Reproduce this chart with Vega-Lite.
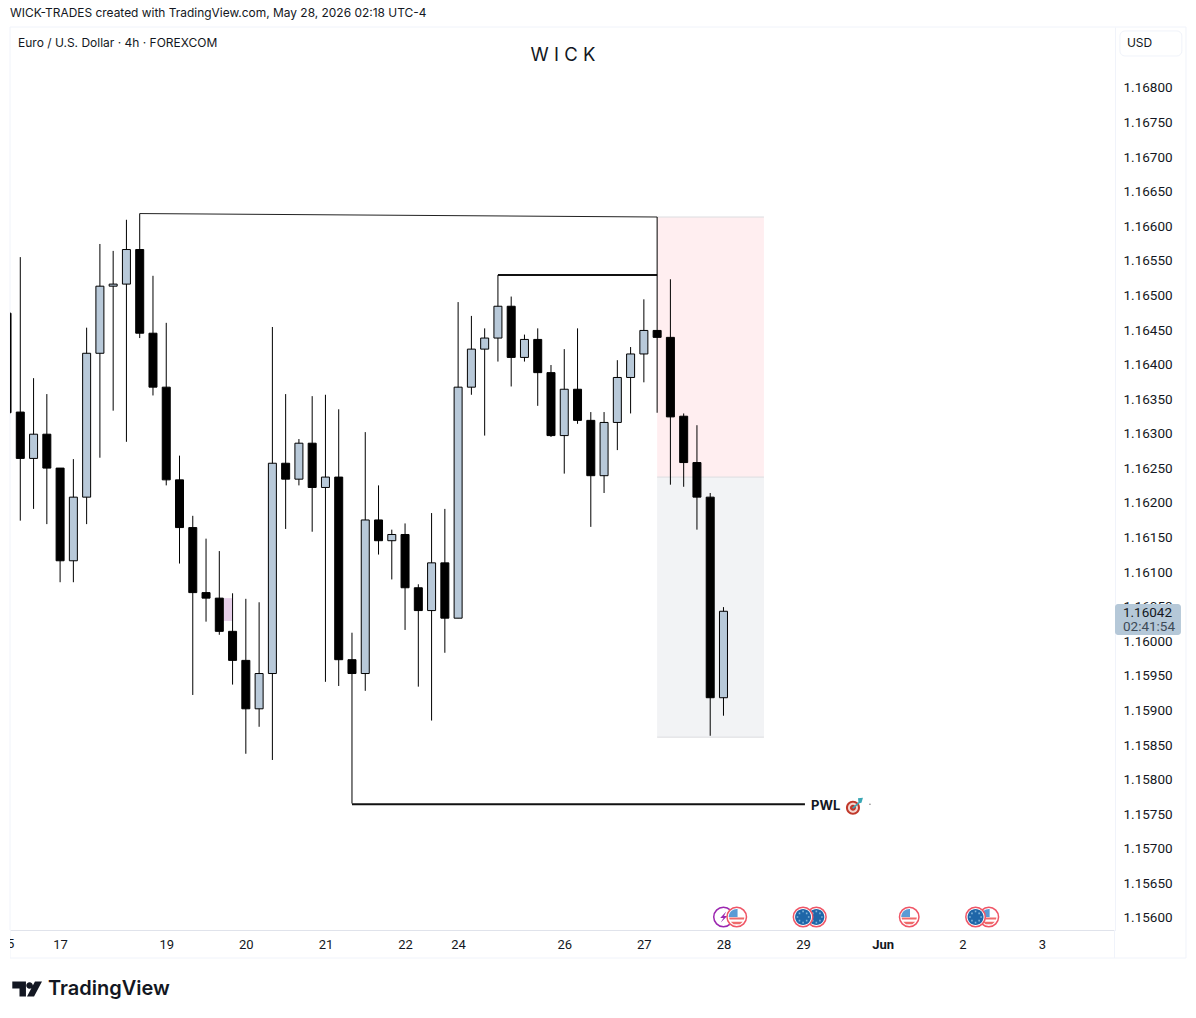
{
  "$schema": "https://vega.github.io/schema/vega-lite/v6.json",
  "width": 1105,
  "height": 903,
  "autosize": "none",
  "padding": {"left": 10, "top": 27, "right": 81, "bottom": 88},
  "background": "white",
  "title": {"text": "WICK-TRADES created with TradingView.com, May 28, 2026 02:18 UTC-4", "anchor": "start", "frame": "group", "fontSize": 11.95, "fontWeight": "normal", "font": "Inter", "color": "#131722", "offset": 7, "limit": 0},
  "config": {"view": {"stroke": null}, "font": "Inter"},
  "datasets": {
    "candles": [
      {"t":0,"o":1.16473,"h":1.16473,"l":1.16329,"c":1.16329},
      {"t":1,"o":1.16330,"h":1.16554,"l":1.16173,"c":1.16263},
      {"t":2,"o":1.16263,"h":1.16379,"l":1.16190,"c":1.16298},
      {"t":3,"o":1.16298,"h":1.16356,"l":1.16168,"c":1.16249},
      {"t":4,"o":1.16249,"h":1.16249,"l":1.16084,"c":1.16115},
      {"t":5,"o":1.16115,"h":1.16262,"l":1.16084,"c":1.16207},
      {"t":6,"o":1.16207,"h":1.16452,"l":1.16168,"c":1.16415},
      {"t":7,"o":1.16415,"h":1.16573,"l":1.16264,"c":1.16512},
      {"t":8,"o":1.16512,"h":1.16563,"l":1.16332,"c":1.16515},
      {"t":9,"o":1.16515,"h":1.16608,"l":1.16287,"c":1.16565},
      {"t":10,"o":1.16565,"h":1.16617,"l":1.16437,"c":1.16444},
      {"t":11,"o":1.16444,"h":1.16527,"l":1.16354,"c":1.16366},
      {"t":12,"o":1.16366,"h":1.16459,"l":1.16224,"c":1.16232},
      {"t":13,"o":1.16232,"h":1.16267,"l":1.16111,"c":1.16163},
      {"t":14,"o":1.16163,"h":1.16180,"l":1.15921,"c":1.16069},
      {"t":15,"o":1.16069,"h":1.16147,"l":1.16027,"c":1.16061},
      {"t":16,"o":1.16061,"h":1.16129,"l":1.16008,"c":1.16013},
      {"t":17,"o":1.16013,"h":1.16068,"l":1.15936,"c":1.15971},
      {"t":18,"o":1.15971,"h":1.16060,"l":1.15836,"c":1.15901},
      {"t":19,"o":1.15901,"h":1.16055,"l":1.15875,"c":1.15952},
      {"t":20,"o":1.15952,"h":1.16453,"l":1.15827,"c":1.16256},
      {"t":21,"o":1.16256,"h":1.16356,"l":1.16161,"c":1.16233},
      {"t":22,"o":1.16233,"h":1.16291,"l":1.16224,"c":1.16285},
      {"t":23,"o":1.16285,"h":1.16353,"l":1.16157,"c":1.16221},
      {"t":24,"o":1.16221,"h":1.16355,"l":1.15940,"c":1.16236},
      {"t":25,"o":1.16236,"h":1.16334,"l":1.15934,"c":1.15972},
      {"t":26,"o":1.15972,"h":1.16011,"l":1.15764,"c":1.15952},
      {"t":27,"o":1.15952,"h":1.16301,"l":1.15927,"c":1.16174},
      {"t":28,"o":1.16174,"h":1.16224,"l":1.16124,"c":1.16144},
      {"t":29,"o":1.16144,"h":1.16160,"l":1.16088,"c":1.16153},
      {"t":30,"o":1.16153,"h":1.16169,"l":1.16015,"c":1.16076},
      {"t":31,"o":1.16076,"h":1.16081,"l":1.15933,"c":1.16043},
      {"t":32,"o":1.16043,"h":1.16184,"l":1.15884,"c":1.16112},
      {"t":33,"o":1.16112,"h":1.16190,"l":1.15982,"c":1.16032},
      {"t":34,"o":1.16032,"h":1.16489,"l":1.16032,"c":1.16366},
      {"t":35,"o":1.16366,"h":1.16469,"l":1.16355,"c":1.16421},
      {"t":36,"o":1.16421,"h":1.16451,"l":1.16296,"c":1.16437},
      {"t":37,"o":1.16437,"h":1.16528,"l":1.16403,"c":1.16483},
      {"t":38,"o":1.16483,"h":1.16497,"l":1.16367,"c":1.16409},
      {"t":39,"o":1.16409,"h":1.16442,"l":1.16403,"c":1.16435},
      {"t":40,"o":1.16435,"h":1.16451,"l":1.16339,"c":1.16387},
      {"t":41,"o":1.16387,"h":1.16398,"l":1.16294,"c":1.16296},
      {"t":42,"o":1.16296,"h":1.16421,"l":1.16241,"c":1.16363},
      {"t":43,"o":1.16363,"h":1.16451,"l":1.16313,"c":1.16318},
      {"t":44,"o":1.16318,"h":1.16330,"l":1.16164,"c":1.16238},
      {"t":45,"o":1.16238,"h":1.16330,"l":1.16213,"c":1.16315},
      {"t":46,"o":1.16315,"h":1.16405,"l":1.16275,"c":1.16380},
      {"t":47,"o":1.16380,"h":1.16424,"l":1.16328,"c":1.16414},
      {"t":48,"o":1.16414,"h":1.16493,"l":1.16373,"c":1.16448},
      {"t":49,"o":1.16448,"h":1.16612,"l":1.16329,"c":1.16438},
      {"t":50,"o":1.16438,"h":1.16522,"l":1.16225,"c":1.16323},
      {"t":51,"o":1.16324,"h":1.16328,"l":1.16222,"c":1.16257},
      {"t":52,"o":1.16257,"h":1.16311,"l":1.16160,"c":1.16207},
      {"t":53,"o":1.16207,"h":1.16213,"l":1.15862,"c":1.15917},
      {"t":54,"o":1.15917,"h":1.16048,"l":1.15891,"c":1.16042}
    ],
    "icons": [
      {"t":54,"p":1.156,"piece":"ring-purple"},
      {"t":54,"p":1.156,"piece":"bolt"},
      {"t":55,"p":1.156,"piece":"ring-red"},
      {"t":55,"p":1.156,"piece":"us-stripes"},
      {"t":55,"p":1.156,"piece":"us-canton"},
      {"t":61,"p":1.156,"piece":"ring-red"},
      {"t":61,"p":1.156,"piece":"eu-disc"},
      {"t":61,"p":1.156,"piece":"eu-stars"},
      {"t":60,"p":1.156,"piece":"ring-red"},
      {"t":60,"p":1.156,"piece":"eu-disc"},
      {"t":60,"p":1.156,"piece":"eu-stars"},
      {"t":68,"p":1.156,"piece":"ring-red"},
      {"t":68,"p":1.156,"piece":"us-stripes"},
      {"t":68,"p":1.156,"piece":"us-canton"},
      {"t":74,"p":1.156,"piece":"ring-red"},
      {"t":74,"p":1.156,"piece":"us-stripes"},
      {"t":74,"p":1.156,"piece":"us-canton"},
      {"t":73,"p":1.156,"piece":"ring-red"},
      {"t":73,"p":1.156,"piece":"eu-disc"},
      {"t":73,"p":1.156,"piece":"eu-stars"},
      {"t":63.76,"p":1.15758,"piece":"target-outer"},
      {"t":63.76,"p":1.15758,"piece":"target-white"},
      {"t":63.76,"p":1.15758,"piece":"target-inner"},
      {"t":63.76,"p":1.15758,"piece":"dart"},
      {"t":65.04,"p":1.15763,"piece":"speck"},
      {"t":1.505,"p":1.15496,"piece":"tv-logo"}
    ]
  },
  "layer": [
    {
      "data": {"values": [{"t":0.224,"t2":88.86,"p":1.168867,"p2":1.155407}]},
      "mark": {"type": "rect", "fill": null, "stroke": "#f0f3fa", "strokeWidth": 1},
      "encoding": {
        "x": {"field": "t", "type": "quantitative", "scale": {"domain": [0.224, 83.51], "nice": false, "zero": false, "padding": 0},
          "axis": {"title": null, "values": [4,12,18,24,30,34,42,48,54,60,66,72,78], "tickCount": 30, "labelExpr": "{'4':'17','12':'19','18':'20','24':'21','30':'22','34':'24','42':'26','48':'27','54':'28','60':'29','66':'Jun','72':'2','78':'3'}[datum.value]", "ticks": false, "grid": false, "domain": true, "domainColor": "#e0e3eb", "labelPadding": 8, "labelFontSize": 13, "labelOverlap": false, "labelColor": "#131722", "labelFont": "Roboto", "labelFontWeight": {"condition": {"test": "datum.value == 66", "value": "bold"}, "value": "normal"}}},
        "x2": {"field": "t2"},
        "y": {"field": "p", "type": "quantitative", "scale": {"domain": [1.155812, 1.168867], "nice": false, "zero": false, "padding": 0},
          "axis": {"title": null, "orient": "right", "values": [1.156,1.1565,1.157,1.1575,1.158,1.1585,1.159,1.1595,1.16,1.1605,1.161,1.1615,1.162,1.1625,1.163,1.1635,1.164,1.1645,1.165,1.1655,1.166,1.1665,1.167,1.1675,1.168], "tickCount": 30, "format": ".5f", "ticks": false, "grid": false, "domain": true, "domainColor": "#f0f3fa", "labelPadding": 8, "labelOffset": 1, "labelFontSize": 13.5, "labelOverlap": false, "labelColor": "#131722", "labelFont": "Roboto"}},
        "y2": {"field": "p2"}
      }
    },
    {
      "data": {"values": [{"t":83.47,"p":1.155812,"p2":1.155407}]},
      "mark": {"type": "rule", "stroke": "#f0f3fa"},
      "encoding": {
        "x": {"field": "t", "type": "quantitative"},
        "y": {"field": "p", "type": "quantitative"},
        "y2": {"field": "p2"}
      }
    },
    {
      "data": {"values": [{"t":49,"t2":57.05,"p":1.16612,"p2":1.16236}]},
      "mark": {"type": "rect", "fill": "#ffeef0"},
      "encoding": {
        "x": {"field": "t", "type": "quantitative"},
        "x2": {"field": "t2"},
        "y": {"field": "p", "type": "quantitative"},
        "y2": {"field": "p2"}
      }
    },
    {
      "data": {"values": [{"t":49,"t2":57.05,"p":1.16236,"p2":1.1586}]},
      "mark": {"type": "rect", "fill": "#f2f3f5"},
      "encoding": {
        "x": {"field": "t", "type": "quantitative"},
        "x2": {"field": "t2"},
        "y": {"field": "p", "type": "quantitative"},
        "y2": {"field": "p2"}
      }
    },
    {
      "data": {"values": [{"t":49,"t2":57.05,"p":1.16612},{"t":49,"t2":57.05,"p":1.16236},{"t":49,"t2":57.05,"p":1.1586}]},
      "mark": {"type": "rule", "stroke": "#dcdde0"},
      "encoding": {
        "x": {"field": "t", "type": "quantitative"},
        "x2": {"field": "t2"},
        "y": {"field": "p", "type": "quantitative"}
      }
    },
    {
      "data": {"values": [{"t":16.35,"t2":17,"p":1.16061,"p2":1.16028}]},
      "mark": {"type": "rect", "fill": "#e6cfe9"},
      "encoding": {
        "x": {"field": "t", "type": "quantitative"},
        "x2": {"field": "t2"},
        "y": {"field": "p", "type": "quantitative"},
        "y2": {"field": "p2"}
      }
    },
    {
      "data": {"values": [{"t":10,"p":1.16617},{"t":49,"p":1.16612}]},
      "mark": {"type": "line", "stroke": "#222222", "strokeWidth": 1},
      "encoding": {
        "x": {"field": "t", "type": "quantitative"},
        "y": {"field": "p", "type": "quantitative"}
      }
    },
    {
      "data": {"values": [{"t":37,"t2":49,"p":1.16528},{"t":26,"t2":60.14,"p":1.15763}]},
      "mark": {"type": "rule", "stroke": "#111111", "strokeWidth": 2},
      "encoding": {
        "x": {"field": "t", "type": "quantitative"},
        "x2": {"field": "t2"},
        "y": {"field": "p", "type": "quantitative"}
      }
    },
    {
      "data": {"name": "candles"},
      "mark": {"type": "rule", "stroke": "#000000", "strokeWidth": 1, "clip": true},
      "encoding": {
        "x": {"field": "t", "type": "quantitative"},
        "y": {"field": "h", "type": "quantitative"},
        "y2": {"field": "l"}
      }
    },
    {
      "data": {"name": "candles"},
      "mark": {"type": "bar", "size": 8, "stroke": "#000000", "strokeWidth": 1, "clip": true},
      "encoding": {
        "x": {"field": "t", "type": "quantitative"},
        "y": {"field": "o", "type": "quantitative"},
        "y2": {"field": "c"},
        "fill": {"condition": {"test": "datum.c > datum.o", "value": "#b8c9d9"}, "value": "#000000"}
      }
    },
    {
      "data": {"values": [{"t":83.88,"t2":88.55,"p":1.16881,"p2":1.168448}]},
      "mark": {"type": "rect", "fill": "white", "stroke": "#f0f3fa", "cornerRadius": 5},
      "encoding": {
        "x": {"field": "t", "type": "quantitative"},
        "x2": {"field": "t2"},
        "y": {"field": "p", "type": "quantitative"},
        "y2": {"field": "p2"}
      }
    },
    {
      "data": {"values": [{"t":83.51,"t2":88.48,"p":1.160525,"p2":1.160077}]},
      "mark": {"type": "rect", "fill": "#b5c8d8", "cornerRadius": 3},
      "encoding": {
        "x": {"field": "t", "type": "quantitative"},
        "x2": {"field": "t2"},
        "y": {"field": "p", "type": "quantitative"},
        "y2": {"field": "p2"}
      }
    },
    {
      "data": {"values": [{"t":0,"p":1.15561,"label":"15"}]},
      "mark": {"type": "text", "align": "center", "baseline": "middle", "fontSize": 13, "font": "Roboto", "color": "#131722"},
      "encoding": {
        "x": {"field": "t", "type": "quantitative"},
        "y": {"field": "p", "type": "quantitative"},
        "text": {"field": "label"}
      }
    },
    {
      "data": {"values": [{"t":-0.6,"t2":0.224,"p":1.155812,"p2":1.155407}]},
      "mark": {"type": "rect", "fill": "white"},
      "encoding": {
        "x": {"field": "t", "type": "quantitative"},
        "x2": {"field": "t2"},
        "y": {"field": "p", "type": "quantitative"},
        "y2": {"field": "p2"}
      }
    },
    {
      "data": {"values": [
        {"t":0.827,"p":1.168636,"label":"Euro / U.S. Dollar · 4h · FOREXCOM"},
        {"t":84.41,"p":1.168636,"label":"USD"}
      ]},
      "mark": {"type": "text", "align": "left", "baseline": "middle", "fontSize": 12, "font": "Inter", "color": "#131722"},
      "encoding": {
        "x": {"field": "t", "type": "quantitative"},
        "y": {"field": "p", "type": "quantitative"},
        "text": {"field": "label"}
      }
    },
    {
      "data": {"values": [{"t":84.11,"p":1.160395,"label":"1.16042"}]},
      "mark": {"type": "text", "align": "left", "baseline": "middle", "fontSize": 13.5, "font": "Roboto", "color": "#131722"},
      "encoding": {
        "x": {"field": "t", "type": "quantitative"},
        "y": {"field": "p", "type": "quantitative"},
        "text": {"field": "label"}
      }
    },
    {
      "data": {"values": [{"t":84.11,"p":1.160193,"label":"02:41:54"}]},
      "mark": {"type": "text", "align": "left", "baseline": "middle", "fontSize": 13.5, "font": "Roboto", "color": "#3d4a57"},
      "encoding": {
        "x": {"field": "t", "type": "quantitative"},
        "y": {"field": "p", "type": "quantitative"},
        "text": {"field": "label"}
      }
    },
    {
      "data": {"values": [{"t":41.9,"p":1.16846,"label":"W I C K"}]},
      "mark": {"type": "text", "align": "center", "baseline": "middle", "fontSize": 18.5, "font": "Inter", "color": "#131722"},
      "encoding": {
        "x": {"field": "t", "type": "quantitative"},
        "y": {"field": "p", "type": "quantitative"},
        "text": {"field": "label"}
      }
    },
    {
      "data": {"values": [{"t":60.6,"p":1.15761,"label":"PWL"}]},
      "mark": {"type": "text", "align": "left", "baseline": "middle", "fontSize": 13, "fontWeight": "bold", "font": "Inter", "color": "#131722"},
      "encoding": {
        "x": {"field": "t", "type": "quantitative"},
        "y": {"field": "p", "type": "quantitative"},
        "text": {"field": "label"}
      }
    },
    {
      "data": {"values": [{"t":3.09,"p":1.15496,"label":"TradingView"}]},
      "mark": {"type": "text", "align": "left", "baseline": "middle", "fontSize": 20, "fontWeight": 600, "font": "Inter", "color": "#131722"},
      "encoding": {
        "x": {"field": "t", "type": "quantitative"},
        "y": {"field": "p", "type": "quantitative"},
        "text": {"field": "label"}
      }
    },
    {
      "data": {"name": "icons"},
      "mark": {"type": "point", "filled": true, "opacity": 1, "strokeWidth": 1.5},
      "encoding": {
        "x": {"field": "t", "type": "quantitative"},
        "y": {"field": "p", "type": "quantitative"},
        "shape": {"field": "piece", "type": "nominal", "legend": null, "scale": {
          "domain": ["ring-purple","ring-red","bolt","us-stripes","us-canton","eu-disc","eu-stars","target-outer","target-white","target-inner","dart","speck","tv-logo"],
          "range": [
            "M-1,0A1,1 0 1,1 1,0A1,1 0 1,1 -1,0Z",
            "M-1,0A1,1 0 1,1 1,0A1,1 0 1,1 -1,0Z",
            "M0.5,-1L-0.6,0.2L0,0.2L-0.5,1L0.7,-0.2L0.1,-0.2Z",
            "M-0.95,0.05L0.95,0.05L0.9,0.3L-0.9,0.3ZM-0.75,0.6L0.75,0.6L0.4,0.9L-0.4,0.9Z",
            "M0.1,-1L0.1,0L-1,0A1,1 0 0,1 0.1,-1Z",
            "M-1,0A1,1 0 1,1 1,0A1,1 0 1,1 -1,0Z",
            "M0.6,-0.1h0.2v0.2h-0.2ZM0.35,0.35h0.2v0.2h-0.2ZM-0.1,0.6h0.2v0.2h-0.2ZM-0.55,0.35h0.2v0.2h-0.2ZM-0.8,-0.1h0.2v0.2h-0.2ZM-0.55,-0.55h0.2v0.2h-0.2ZM-0.1,-0.8h0.2v0.2h-0.2ZM0.35,-0.55h0.2v0.2h-0.2Z",
            "M-1,0A1,1 0 1,1 1,0A1,1 0 1,1 -1,0Z",
            "M-1,0A1,1 0 1,1 1,0A1,1 0 1,1 -1,0Z",
            "M-1,0A1,1 0 1,1 1,0A1,1 0 1,1 -1,0Z",
            "M-0.1,0L0.55,-0.55L0.5,-0.95L1,-1L0.85,-0.5L0.65,-0.45L0.05,0.1Z",
            "M-1,0A1,1 0 1,1 1,0A1,1 0 1,1 -1,0Z",
            "M-0.98,-0.5L-0.07,-0.5L-0.07,0.5L-0.5,0.5L-0.5,-0.03L-0.98,-0.03ZM-0.05,-0.23A0.22,0.22 0 1,1 0.39,-0.23A0.22,0.22 0 1,1 -0.05,-0.23ZM0.53,-0.5L1,-0.5L0.47,0.5L0,0.5Z"
          ]}},
        "size": {"field": "piece", "type": "nominal", "legend": null, "scale": {
          "type": "ordinal",
          "domain": ["ring-purple","ring-red","bolt","us-stripes","us-canton","eu-disc","eu-stars","target-outer","target-white","target-inner","dart","speck","tv-logo"],
          "range": [380,380,121,256,256,256,256,196,100,36,400,3,900]}},
        "fill": {"field": "piece", "type": "nominal", "legend": null, "scale": {
          "domain": ["ring-purple","ring-red","bolt","us-stripes","us-canton","eu-disc","eu-stars","target-outer","target-white","target-inner","dart","speck","tv-logo"],
          "range": ["#ffffff","#ffffff","#9c27b0","#ef6b6b","#5b9bd5","#1f66a8","#7fb2d8","#c0392b","#f5d6d0","#c0392b","#3aa7b5","#888888","#131722"]}},
        "stroke": {"field": "piece", "type": "nominal", "legend": null, "scale": {
          "domain": ["ring-purple","ring-red","bolt","us-stripes","us-canton","eu-disc","eu-stars","target-outer","target-white","target-inner","dart","speck","tv-logo"],
          "range": ["#9c27b0","#ef5566","transparent","transparent","transparent","transparent","transparent","transparent","transparent","transparent","transparent","transparent","transparent"]}}
      }
    }
  ]
}
